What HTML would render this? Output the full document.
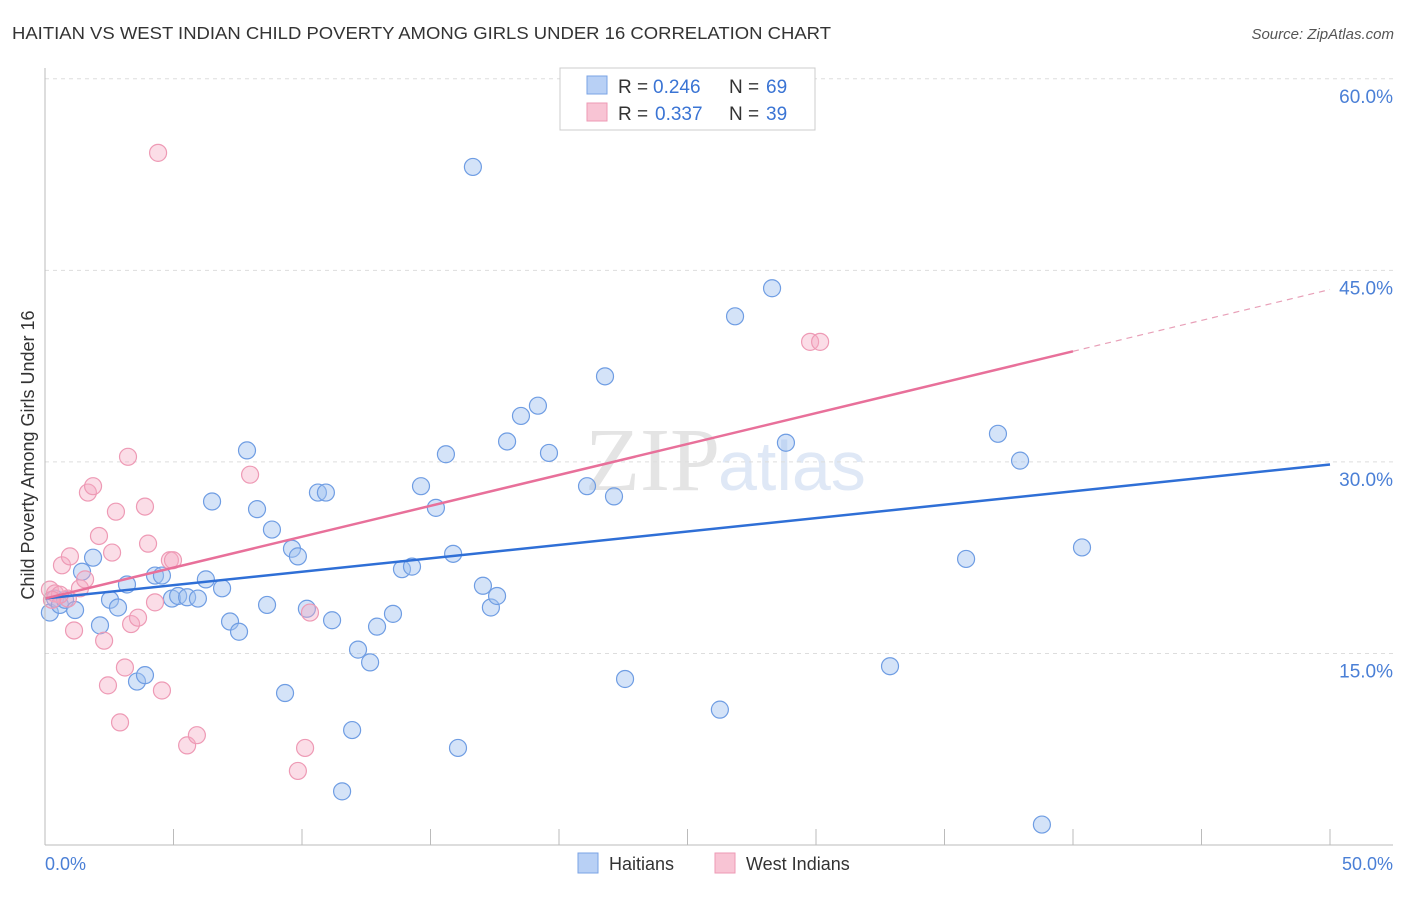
<!DOCTYPE html>
<html><head><meta charset="utf-8"><style>
body{margin:0;background:#fff;font-family:"Liberation Sans",sans-serif;}
</style></head><body>
<svg id="c" width="1406" height="892" xmlns="http://www.w3.org/2000/svg">
<text x="12" y="39" font-size="17.5" fill="#333" textLength="819" lengthAdjust="spacingAndGlyphs">HAITIAN VS WEST INDIAN CHILD POVERTY AMONG GIRLS UNDER 16 CORRELATION CHART</text>
<text x="1394" y="39" font-size="15" fill="#555" font-style="italic" text-anchor="end">Source: ZipAtlas.com</text>
<text x="720" y="490" font-size="90" fill="#e4e4e4" text-anchor="end" font-family="Liberation Serif">ZIP</text>
<text x="718" y="490" font-size="70" fill="#dfe8f6">atlas</text>
<g id="grid"></g><g id="pts"></g><g id="lines"></g>
<line x1="45" y1="68" x2="45" y2="845" stroke="#bbb"/>
<line x1="45" y1="845" x2="1393" y2="845" stroke="#bbb"/>
<text x="0" y="0" font-size="18" fill="#333" text-anchor="middle" transform="translate(34,455) rotate(-90)">Child Poverty Among Girls Under 16</text>
<text x="45" y="870" font-size="18" fill="#4a7fd6">0.0%</text>
<text x="1393" y="870" font-size="18" fill="#4a7fd6" text-anchor="end">50.0%</text>
<g>
<rect x="560" y="68" width="255" height="62" fill="#fff" stroke="#ccc"/>
<rect x="587" y="76" width="20" height="18" fill="#b8d0f5" stroke="#7aa3e5"/>
<rect x="587" y="103" width="20" height="18" fill="#f8c4d4" stroke="#ee9ab5"/>
<text x="618" y="93" font-size="19" fill="#333">R =</text>
<text x="653" y="93" font-size="19" fill="#3a74d4">0.246</text>
<text x="729" y="93" font-size="19" fill="#333">N =</text>
<text x="766" y="93" font-size="19" fill="#3a74d4">69</text>
<text x="618" y="120" font-size="19" fill="#333">R =</text>
<text x="655" y="120" font-size="19" fill="#3a74d4">0.337</text>
<text x="729" y="120" font-size="19" fill="#333">N =</text>
<text x="766" y="120" font-size="19" fill="#3a74d4">39</text>
</g>
<g>
<rect x="578" y="853" width="20" height="20" fill="#b8d0f5" stroke="#7aa3e5"/>
<text x="609" y="870" font-size="18" fill="#333">Haitians</text>
<rect x="715" y="853" width="20" height="20" fill="#f8c4d4" stroke="#ee9ab5"/>
<text x="746" y="870" font-size="18" fill="#333">West Indians</text>
</g>
</svg>
<script>
const yTicks=[15,30,45,60];
const yTickLabels=["15.0%","30.0%","45.0%","60.0%"];
const xTicks=[0,5,10,15,20,25,30,35,40,45,50];
const haitianX=[0.19,0.39,0.58,0.78,1.17,1.44,1.87,2.14,2.53,2.84,3.19,3.58,3.89,4.28,4.55,4.94,5.18,5.53,5.95,6.26,6.5,6.89,7.2,7.55,7.86,8.25,8.64,8.83,9.34,9.61,9.84,10.19,10.62,10.93,11.17,11.95,11.56,12.18,12.65,12.92,13.54,13.89,14.28,14.63,15.21,15.6,15.88,16.07,16.65,17.04,17.35,17.59,17.98,18.52,19.18,19.61,21.09,21.79,22.14,22.57,26.26,26.85,28.29,28.83,32.88,35.84,37.08,37.94,38.79,40.35];
const haitianY=[18.2,19.3,18.8,19.2,18.4,21.4,22.5,17.2,19.2,18.6,20.4,12.8,13.3,21.1,21.1,19.3,19.5,19.4,19.3,20.8,26.9,20.1,17.5,16.7,30.9,26.3,18.8,24.7,11.9,23.2,22.6,18.5,27.6,27.6,17.6,9.0,4.2,15.3,14.3,17.1,18.1,21.6,21.8,28.1,26.4,30.6,22.8,7.6,53.1,20.3,18.6,19.5,31.6,33.6,34.4,30.7,28.1,36.7,27.3,13.0,10.6,41.4,43.6,31.5,14.0,22.4,32.2,30.1,1.6,23.3];
const westIndianX=[0.19,0.39,0.66,0.89,0.97,1.13,1.36,1.56,1.67,1.87,2.1,2.3,2.45,2.61,2.76,2.92,3.11,3.23,3.35,3.62,3.89,4.01,4.28,4.4,4.55,4.86,4.98,5.53,5.91,7.98,9.84,10.12,10.31,29.77,30.16,0.58,0.27];
const westIndianY=[20.0,19.7,21.9,19.3,22.6,16.8,20.1,20.8,27.6,28.1,24.2,16.0,12.5,22.9,26.1,9.6,13.9,30.4,17.3,17.8,26.5,23.6,19.0,54.2,12.1,22.3,22.3,7.8,8.6,29.0,5.8,7.6,18.2,39.4,39.4,19.6,19.2];
const blueTrend=[19.3,29.8];
const pinkTrend=[19.3,43.5];
const pinkSolidEnd=40;
const NS="http://www.w3.org/2000/svg";
const sx=v=>45+v*25.7, sy=v=>845-v*12.77;
function mk(t,a,p){const e=document.createElementNS(NS,t);for(const k in a)e.setAttribute(k,a[k]);p.appendChild(e);return e;}
const grid=document.getElementById('grid');
yTicks.forEach((t,i)=>{
 const l=mk('line',{x1:45,x2:1393,y1:sy(t),y2:sy(t),stroke:'#ddd','stroke-dasharray':'4,4'},grid);
 
 
 const tx=mk('text',{x:1393,y:sy(t)+24,'font-size':19,fill:'#4a7fd6','text-anchor':'end'},grid);
 tx.textContent=yTickLabels[i];
 
 
});
xTicks.forEach(t=>{
 const l=mk('line',{x1:sx(t),x2:sx(t),y1:829,y2:845,stroke:'#bbb'},grid);
 
 
});
const pts=document.getElementById('pts');
haitianX.forEach((x,i)=>{
 const c=mk('circle',{cx:sx(x),cy:sy(haitianY[i]),r:8.5,fill:'rgba(160,192,240,0.45)',stroke:'#6f9de3','stroke-width':1.2},pts);
 
 
});
westIndianX.forEach((x,i)=>{
 const c=mk('circle',{cx:sx(x),cy:sy(westIndianY[i]),r:8.5,fill:'rgba(245,170,195,0.4)',stroke:'#ee9ab5','stroke-width':1.2},pts);
 
 
});
const lines=document.getElementById('lines');
const b=mk('line',{x1:sx(0),y1:sy(blueTrend[0]),x2:sx(50),y2:sy(blueTrend[1]),stroke:'#2f6fd6','stroke-width':2.5},lines);


const pm=pinkTrend[0]+(pinkTrend[1]-pinkTrend[0])*pinkSolidEnd/50;
const p=mk('line',{x1:sx(0),y1:sy(pinkTrend[0]),x2:sx(pinkSolidEnd),y2:sy(pm),stroke:'#e8709a','stroke-width':2.5},lines);


const pd=mk('line',{x1:sx(pinkSolidEnd),y1:sy(pm),x2:sx(50),y2:sy(pinkTrend[1]),stroke:'#e8a0b8','stroke-width':1.2,'stroke-dasharray':'6,5'},lines);


</script>
</body></html>
